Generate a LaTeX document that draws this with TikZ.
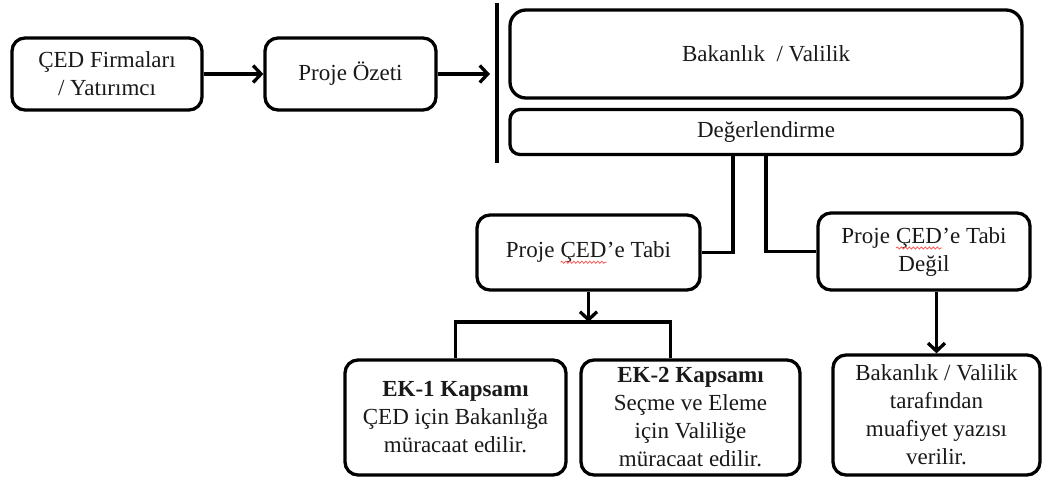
\documentclass[tikz,border=0pt]{standalone}
\usepackage{fontspec}
\setmainfont{Liberation Serif}
\usetikzlibrary{arrows.meta,decorations.pathmorphing}
% red wavy spell-check underline
\newcommand{\redwave}[1]{\tikz[baseline=(w.base)]{%
  \node[inner sep=0pt, outer sep=0pt, draw=none, minimum width=0pt,
    minimum height=0pt, rounded corners=0pt] (w) {#1};
  \draw[red!70, line width=0.7pt, rounded corners=0pt, decorate,
    decoration={snake, amplitude=1.1pt, segment length=4pt}]
    ([yshift=-5pt]w.base west) -- ([yshift=-5pt]w.base east);}}
\begin{document}
\begin{tikzpicture}[x=1pt,y=-1pt,
  box/.style={draw, line width=3.3pt, rounded corners=13pt, inner sep=0pt,
    align=center, font=\fontsize{23}{28}\selectfont, text=black!90},
  link/.style={line width=3.3pt},
  arrow/.style={line width=3.3pt, -{Straight Barb[length=8pt,width=17pt]}}]
\useasboundingbox (0,0) rectangle (1046,482);

% top row
\node[box, minimum width=190pt, minimum height=72pt] (firm) at (107,74)
  {ÇED Firmaları\\/ Yatırımcı};
\node[box, minimum width=171pt, minimum height=72pt] (ozet) at (350.5,74)
  {Proje Özeti};

% separating bar
\coordinate (bartop) at (497,3);
\coordinate (barbot) at (497,163);
\draw[link] (bartop) -- (barbot);

\node[box, rounded corners=16pt, minimum width=512pt, minimum height=88pt] (bak) at (766,54)
  {Bakanlık\ \ / Valilik};
\node[box, rounded corners=10pt, minimum width=512pt, minimum height=45pt] (deg) at (766,132)
  {Değerlendirme};

% decision row
\node[box, minimum width=223pt, minimum height=75pt] (tabi) at (588.5,252.5)
  {Proje \redwave{ÇED}’e Tabi};
\node[box, minimum width=212pt, minimum height=77pt] (degil) at (924,251.5)
  {Proje \redwave{ÇED}’e Tabi\\Değil};

% bottom row
\node[box, minimum width=221pt, minimum height=115pt] (ek1) at (455.5,417.5)
  {\textbf{EK-1 Kapsamı}\\ÇED için Bakanlığa\\müracaat edilir.};
\node[box, minimum width=219pt, minimum height=115pt] (ek2) at (690.5,417.5)
  {\textbf{EK-2 Kapsamı}\\Seçme ve Eleme\\için Valiliğe\\müracaat edilir.};
\node[box, minimum width=207pt, minimum height=120pt] (fin) at (936.5,415)
  {Bakanlık / Valilik\\tarafından\\muafiyet yazısı\\verilir.};

% connectors
\draw[arrow] (firm.east) -- (ozet.west);
\draw[arrow, shorten >=7pt] (ozet.east) -- (ozet.east -| bartop);
\draw[link] ([xshift=-33pt]deg.south) |- (tabi.east);
\draw[link] (deg.south) |- (degil.west);

\coordinate (split) at (588.5,322);
\draw[arrow] (tabi.south) -- (split);
\draw[link] (ek1.north) |- (split) -| ([xshift=-20pt]ek2.north);
\draw[arrow] (degil.south -| fin.north) -- (fin.north);
\end{tikzpicture}
\end{document}
